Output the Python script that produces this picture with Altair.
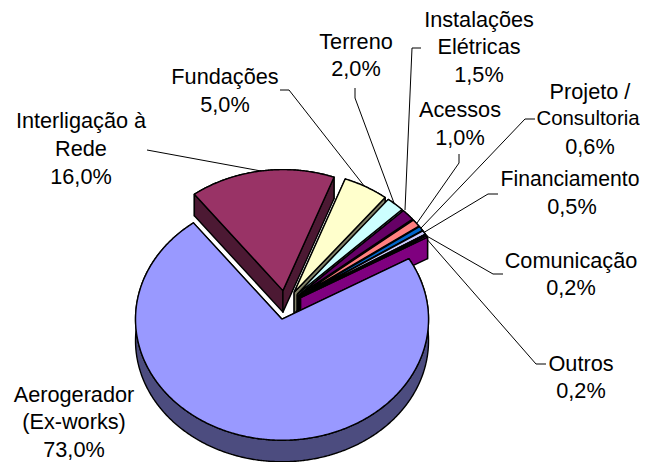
import math
import altair as alt
import pandas as pd

# --- chart values ---
names = ["Aerogerador (Ex-works)", "Interligação à Rede", "Fundações", "Terreno",
         "Instalações Elétricas", "Acessos", "Projeto / Consultoria",
         "Financiamento", "Comunicação", "Outros"]
shares = [73.0, 16.0, 5.0, 2.0, 1.5, 1.0, 0.6, 0.5, 0.2, 0.2]
top_colors = ["#9999FF", "#993366", "#FFFFCC", "#CCFFFF", "#660066",
              "#FF8080", "#0066CC", "#CCCCFF", "#000080", "#FF00FF"]
side_colors = ["#4C4C7F", "#4C1933", "#7F7F66", "#667F7F", "#330033",
               "#7F4040", "#003366", "#66667F", "#000040", "#7F007F"]

# label lines: (text, x centre, y centre)
label_text = ["Aerogerador", "(Ex-works)", "73,0%",
              "Interligação à", "Rede", "16,0%",
              "Fundações", "5,0%",
              "Terreno", "2,0%",
              "Instalações", "Elétricas", "1,5%",
              "Acessos", "1,0%",
              "Projeto /", "Consultoria", "0,6%",
              "Financiamento", "0,5%",
              "Comunicação", "0,2%",
              "Outros", "0,2%"]
label_x = [74, 74, 74, 81, 81, 81, 225, 225, 356, 356, 479, 479, 479,
           460, 460, 590, 588, 590, 570, 572, 571, 571, 581, 581]
label_y = [395, 422, 450, 121, 149, 177, 77, 105, 42, 69, 20, 47, 75,
           110, 138, 92, 119, 147, 180, 207, 261, 288, 364, 391]
label_size = [21.7] * 16 + [20.4, 21.7, 21.2] + [21.7] * 5

# leader lines
leader_x = [[147, 261], [280, 289, 365], [355, 355, 394], [421, 412, 405],
            [459, 459, 417], [535, 525, 421], [498, 488, 423], [503, 493, 425],
            [546, 536, 425]]
leader_y = [[150, 171], [90, 90, 187], [88, 98, 203], [48, 48, 210],
            [154, 163, 223], [119, 119, 228], [194, 194, 233], [274, 274, 235],
            [364, 364, 237]]

# --- pie geometry derived from the shares ---
CX, CY, RX, RY = 285.5, 305.0, 146.5, 121.0
EXPLODE, DEPTH = 0.12, 21.5
START = 60.0


def pt(ox, oy, t):
    a = math.radians(t)
    return ox + RX * math.sin(a), oy - RY * math.cos(a)


polys = []


def add(points, fill):
    pid = len(polys)
    closed = list(points) + [points[0]]
    polys.append(pd.DataFrame({"px": [p[0] for p in closed], "py": [p[1] for p in closed],
                               "i": range(len(closed)), "poly": pid, "fill": fill}))


angle = START
wedges = []
for s, top, side in zip(shares, top_colors, side_colors):
    span = s * 3.6
    wedges.append((angle, angle + span, top, side))
    angle += span

for a0, a1, top, side in wedges[1:] + wedges[:1]:
    mid = math.radians((a0 + a1) / 2)
    ox = CX + RX * EXPLODE * math.sin(mid)
    oy = CY - RY * EXPLODE * math.cos(mid)
    n = max(2, int((a1 - a0) * 2))
    arc = [pt(ox, oy, a0 + (a1 - a0) * k / n) for k in range(n + 1)]
    down = lambda p: (p[0], p[1] + DEPTH)
    # walls: outer band first, then the two radial faces
    add(arc + [down(p) for p in reversed(arc)], side)
    add([(ox, oy), arc[0], down(arc[0]), (ox, oy + DEPTH)], side)
    add([(ox, oy), arc[-1], down(arc[-1]), (ox, oy + DEPTH)], side)
    # top face
    add([(ox, oy)] + arc, top)

poly_df = pd.concat(polys, ignore_index=True)

labels_df = pd.DataFrame({"t": label_text, "x": label_x, "y": label_y, "s": label_size})
lead_rows = []
for k, (xs_, ys_) in enumerate(zip(leader_x, leader_y)):
    for i, (x, y) in enumerate(zip(xs_, ys_)):
        lead_rows.append({"x": x, "y": y, "i": i, "k": k})
leaders_df = pd.DataFrame(lead_rows)

xs = alt.Scale(domain=[8, 640], nice=False, zero=False)
ys = alt.Scale(domain=[8, 462], nice=False, zero=False, reverse=True)

pie = alt.Chart(poly_df).mark_line(stroke="#000000", strokeWidth=1.4, strokeJoin="round").encode(
    x=alt.X("px:Q", scale=xs, axis=None),
    y=alt.Y("py:Q", scale=ys, axis=None),
    detail="poly:N",
    order="i:Q",
    fill=alt.Fill("fill:N", scale=None, legend=None),
)
leaders = alt.Chart(leaders_df).mark_line(color="#000000", strokeWidth=1).encode(
    x=alt.X("x:Q", scale=xs, axis=None),
    y=alt.Y("y:Q", scale=ys, axis=None),
    detail="k:N",
    order="i:Q",
)
text = alt.Chart(labels_df).mark_text(font="Liberation Sans", color="#000000",
                                      align="center", baseline="middle").encode(
    x=alt.X("x:Q", scale=xs, axis=None),
    y=alt.Y("y:Q", scale=ys, axis=None),
    text="t:N",
    size=alt.Size("s:Q", scale=None, legend=None),
)

chart = (leaders + pie + text).properties(
    width=632, height=454, padding=0, autosize=alt.AutoSizeParams(type="none"), background="#FFFFFF"
).configure_view(stroke=None)

chart.save("out.html", embed_options={"renderer": "svg", "actions": False})
